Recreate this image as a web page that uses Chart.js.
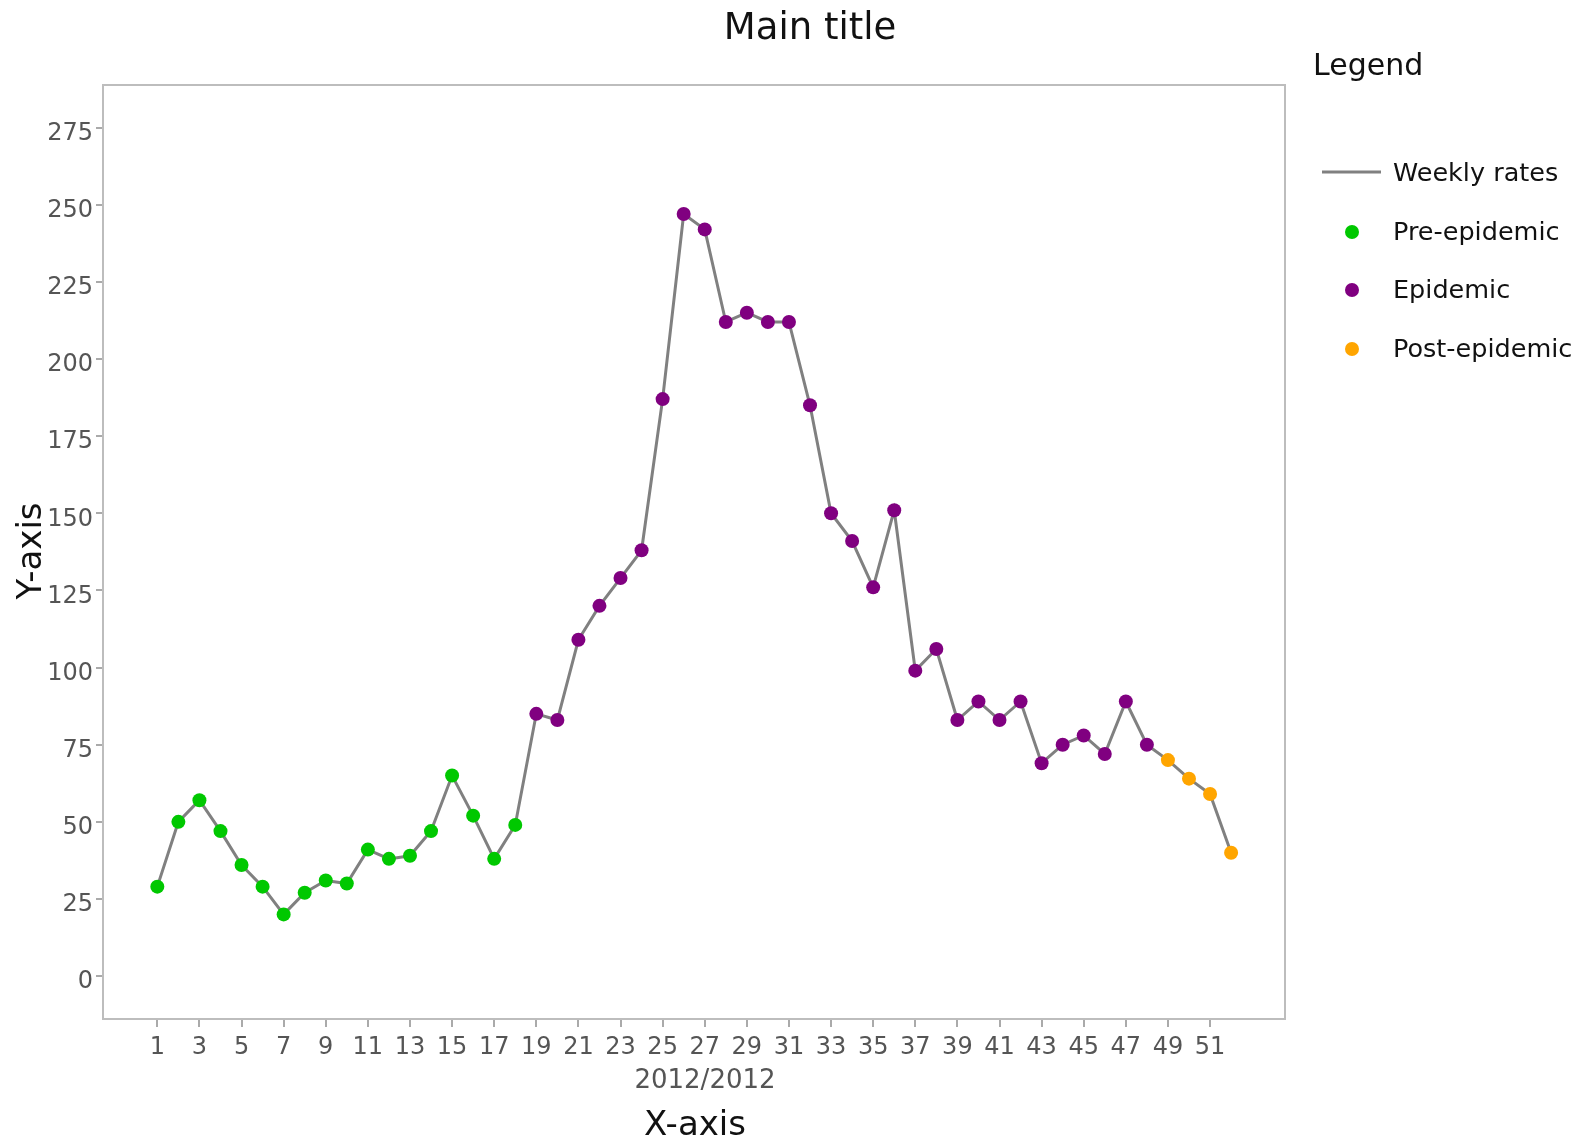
<!DOCTYPE html>
<html>
<head>
<meta charset="utf-8">
<script src="https://cdn.jsdelivr.net/npm/chart.js@4.4.1/dist/chart.umd.min.js"></script>
<style>
    html, body { margin: 0; padding: 0; background: #fff; }
    #wrap { width: 1582px; height: 1142px; position: relative; }
</style>
</head>
<body>
<div id="wrap"><canvas id="rates-chart"></canvas></div>
<script>
// week numbers and weekly rates
const weeks = [1, 2, 3, 4, 5, 6, 7, 8, 9, 10, 11, 12, 13, 14, 15, 16, 17, 18, 19, 20,
    21, 22, 23, 24, 25, 26, 27, 28, 29, 30, 31, 32, 33, 34, 35, 36, 37, 38, 39, 40,
    41, 42, 43, 44, 45, 46, 47, 48, 49, 50, 51, 52];
const rates = [29, 50, 57, 47, 36, 29, 20, 27, 31, 30, 41, 38, 39, 47, 65, 52, 38, 49, 85, 83,
    109, 120, 129, 138, 187, 247, 242, 212, 215, 212, 212, 185, 150, 141, 126, 151, 99, 106, 83, 89,
    83, 89, 69, 75, 78, 72, 89, 75, 70, 64, 59, 40];
// 0 = pre-epidemic, 1 = epidemic, 2 = post-epidemic
const phase = [0, 0, 0, 0, 0, 0, 0, 0, 0, 0, 0, 0, 0, 0, 0, 0, 0, 0, 1, 1,
    1, 1, 1, 1, 1, 1, 1, 1, 1, 1, 1, 1, 1, 1, 1, 1, 1, 1, 1, 1,
    1, 1, 1, 1, 1, 1, 1, 1, 2, 2, 2, 2];
const phaseNames = ["Pre-epidemic", "Epidemic", "Post-epidemic"];
const phaseColors = ["#00c800", "#800080", "#ffa500"];
const xTicks = [1, 3, 5, 7, 9, 11, 13, 15, 17, 19, 21, 23, 25, 27, 29, 31, 33, 35, 37, 39, 41, 43, 45, 47, 49, 51];
const yTicks = [0, 25, 50, 75, 100, 125, 150, 175, 200, 225, 250, 275];

const FONT = "'DejaVu Sans', Verdana, sans-serif";
const lineColor = "#808080";

const points = weeks.map((w, i) => ({ x: w, y: rates[i] }));

// frame, titles and legend
const decor = {
    id: "decor",
    beforeDraw(chart) {
        // y labels sit a little below their tick in the original
        const items = chart.scales.y.getLabelItems();
        if (!items._moved) {
            items.forEach((it) => {
                it.options.translation[1] += 6;
            });
            items._moved = true;
        }
    },
    beforeDatasetsDraw(chart) {
        const ctx = chart.ctx;
        const a = chart.chartArea;
        ctx.save();
        ctx.strokeStyle = "#bdbdbd";
        ctx.lineWidth = 2;
        ctx.strokeRect(a.left, a.top, a.right - a.left, a.bottom - a.top);
        ctx.restore();
    },
    afterDraw(chart) {
        const ctx = chart.ctx;
        ctx.save();
        ctx.textBaseline = "middle";

        ctx.fillStyle = "#111";
        ctx.textAlign = "center";
        ctx.font = "37px " + FONT;
        ctx.fillText("Main title", 810, 29);

        ctx.font = "34px " + FONT;
        ctx.fillText("X-axis", 695, 1126);
        ctx.fillStyle = "#555";
        ctx.font = "26px " + FONT;
        ctx.fillText("2012/2012", 705, 1081);

        ctx.fillStyle = "#111";
        ctx.font = "34px " + FONT;
        ctx.translate(32, 551);
        ctx.rotate(-Math.PI / 2);
        ctx.fillText("Y-axis", 0, 0);
        ctx.setTransform(1, 0, 0, 1, 0, 0);

        // legend
        ctx.textAlign = "left";
        ctx.font = "30px " + FONT;
        ctx.fillText("Legend", 1313, 67);

        ctx.font = "25.5px " + FONT;
        ctx.strokeStyle = lineColor;
        ctx.lineWidth = 3;
        ctx.beginPath();
        ctx.moveTo(1322, 172);
        ctx.lineTo(1381, 172);
        ctx.stroke();
        ctx.fillText("Weekly rates", 1393, 174);

        const rows = [232, 290, 349];
        phaseNames.forEach((name, i) => {
            ctx.fillStyle = phaseColors[i];
            ctx.beginPath();
            ctx.arc(1352, rows[i], 7, 0, Math.PI * 2);
            ctx.fill();
            ctx.fillStyle = "#111";
            ctx.fillText(name, 1393, rows[i] + 1);
        });
        ctx.restore();
    },
};

const tickFont = { family: FONT, size: 24 };

new Chart(document.getElementById("rates-chart"), {
    type: "line",
    data: {
        datasets: [
            {
                label: "Weekly rates",
                data: points,
                borderColor: lineColor,
                borderWidth: 3,
                tension: 0,
                pointRadius: 7,
                pointHoverRadius: 7,
                pointBorderWidth: 0,
                pointBackgroundColor: phase.map((p) => phaseColors[p]),
            },
        ],
    },
    options: {
        responsive: true,
        maintainAspectRatio: false,
        animation: false,
        layout: { padding: { top: 85, right: 297, left: 0, bottom: 0 } },
        plugins: {
            legend: { display: false },
            tooltip: { enabled: false },
        },
        scales: {
            x: {
                type: "linear",
                min: -1.58,
                max: 54.56,
                afterBuildTicks: (s) => {
                    s.ticks = xTicks.map((v) => ({ value: v }));
                },
                afterFit: (s) => {
                    s.height = 123;
                },
                ticks: {
                    font: tickFont,
                    color: "#555",
                    padding: 6,
                    maxRotation: 0,
                    autoSkip: false,
                },
                grid: {
                    display: true,
                    drawOnChartArea: false,
                    drawTicks: true,
                    tickLength: 8,
                    tickColor: "#aaa",
                    lineWidth: 2,
                },
                border: { display: false },
            },
            y: {
                min: -13.9,
                max: 288.8,
                afterBuildTicks: (s) => {
                    s.ticks = yTicks.map((v) => ({ value: v }));
                },
                afterFit: (s) => {
                    s.width = 103;
                },
                ticks: {
                    font: tickFont,
                    color: "#555",
                    padding: 3,
                },
                grid: {
                    display: true,
                    drawOnChartArea: false,
                    drawTicks: true,
                    tickLength: 7,
                    tickColor: "#aaa",
                    lineWidth: 2,
                },
                border: { display: false },
            },
        },
    },
    plugins: [decor],
});
</script>
</body>
</html>
